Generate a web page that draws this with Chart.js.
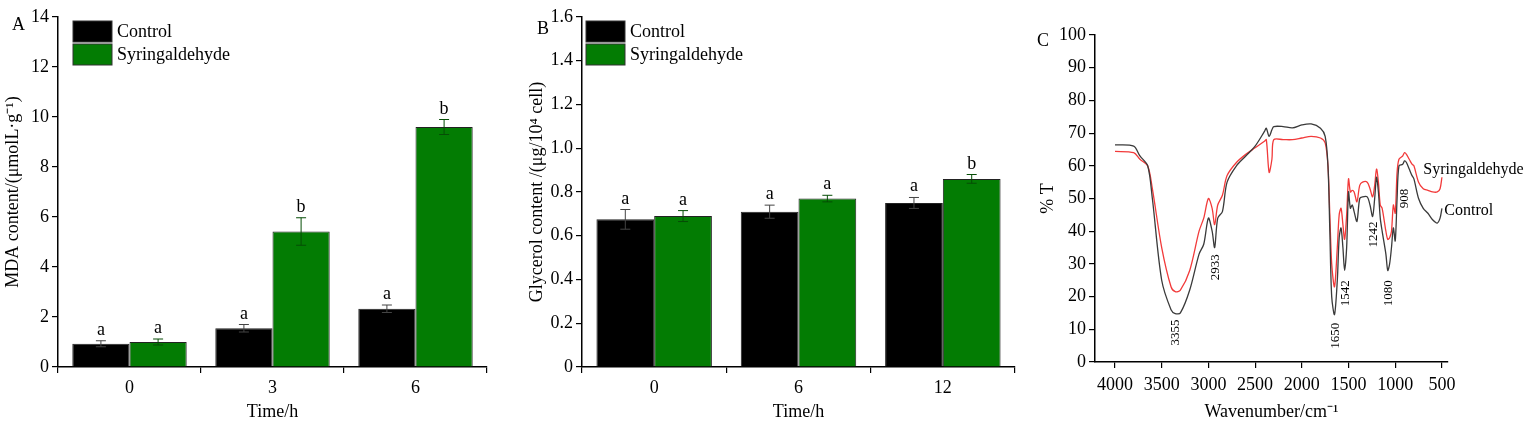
<!DOCTYPE html>
<html><head><meta charset="utf-8">
<script src="https://cdn.jsdelivr.net/npm/chart.js@4.4.1/dist/chart.umd.min.js"></script>
<style>
body{margin:0;background:#fff;width:1525px;height:427px;position:relative;overflow:hidden}
canvas{position:absolute;top:0}
</style></head><body>
<canvas id="cA" style="left:0" width="520" height="427"></canvas>
<canvas id="cB" style="left:520px" width="510" height="427"></canvas>
<canvas id="cC" style="left:1030px" width="495" height="427"></canvas>
<script>
/* panel A: MDA */
const timesA   = ['0', '3', '6'];
const mdaCtrl  = [0.93, 1.55, 2.33];
const mdaCtrlE = [0.12, 0.15, 0.15];
const mdaSyr   = [1.0, 5.42, 9.6];
const mdaSyrE  = [0.12, 0.55, 0.3];
const mdaLetCtrl = ['a', 'a', 'a'];
const mdaLetSyr  = ['a', 'b', 'b'];

/* panel B: glycerol */
const timesB   = ['0', '6', '12'];
const glyCtrl  = [0.675, 0.71, 0.75];
const glyCtrlE = [0.045, 0.03, 0.025];
const glySyr   = [0.69, 0.77, 0.86];
const glySyrE  = [0.025, 0.015, 0.02];
const glyLetCtrl = ['a', 'a', 'a'];
const glyLetSyr  = ['a', 'a', 'b'];

/* panel C: FTIR */
const wn = [4000,3800,3733,3650,3600,3500,3400,3355,3300,3200,3100,3050,3000,2960,2933,2900,2850,2800,2700,2600,2500,2400,2380,2350,2320,2300,2200,2100,2000,1900,1800,1750,1720,1700,1680,1650,1620,1600,1580,1560,1542,1520,1500,1480,1460,1440,1410,1380,1350,1300,1270,1242,1220,1200,1180,1160,1140,1100,1080,1060,1040,1020,1000,980,960,920,900,880,850,820,800,750,700,650,600,550,520,500];
const irCtrl = [66.4,66,63,60,50,25,16,14.8,15,22,33,36,44,40,35,44,46,55,60,63,66,70.5,71.5,69,71,72,72,71.6,72.5,72.8,71.5,69,60,40,20,14.5,25,38,41,35,28,35,52,47,48,46,43,50,50.5,50.5,48,44.5,50,56.5,52,44,40,33,28,30,35,41,37,50,60,60.5,61.5,61,59,57,56,50,47,45.5,43.5,42.5,44,47];
const irSyr  = [64.4,64,62,60,53,35,23,21.5,22,28,40,44,50,47,42,48,51,57,61,63.5,65.5,67.5,68,58,62,68,68,68,68.5,69,68.5,67,60,45,30,23,35,45,47,42,37.5,45,56,52,52.5,52,49,54,55,55,53,50.5,54,59,55,48,47,40,37.5,38,40,48,45.5,58,62,63,64,63.5,62,60.5,60,55,53,52.5,52,52,53,56.5];
const peakWn  = [3355, 2933, 1650, 1542, 1242, 1080, 908];
const peakAt  = [9, 29, 8, 21, 39, 21, 50];
const xTicksC = [4000,3500,3000,2500,2000,1500,1000,500];

const FONT = '"Liberation Serif", "Times New Roman", serif';
Chart.defaults.font.family = FONT;
Chart.defaults.color = '#000';
Chart.defaults.animation = false;

const axisGrid = { display: true, drawOnChartArea: false, drawTicks: true, tickLength: 6, color: '#000', lineWidth: 1.2 };
const border   = { color: '#000', width: 1.5 };

const barExtras = {
  id: 'barExtras',
  afterDatasetsDraw(chart, args, o) {
    const ctx = chart.ctx;
    ctx.save();
    chart.data.datasets.forEach((ds, di) => {
      const meta = chart.getDatasetMeta(di);
      const ys = chart.scales.y;
      meta.data.forEach((bar, i) => {
        const v = ds.data[i], e = ds.err[i];
        const top = ys.getPixelForValue(v + e), bot = ys.getPixelForValue(v - e);
        ctx.strokeStyle = di === 0 ? '#444' : '#064d06';
        ctx.lineWidth = 1;
        ctx.beginPath();
        ctx.moveTo(bar.x, top); ctx.lineTo(bar.x, bot);
        ctx.moveTo(bar.x - 5, top); ctx.lineTo(bar.x + 5, top);
        ctx.moveTo(bar.x - 5, bot); ctx.lineTo(bar.x + 5, bot);
        ctx.stroke();
        ctx.fillStyle = '#000';
        ctx.font = '18px ' + FONT;
        ctx.textAlign = 'center';
        ctx.fillText(ds.letters[i], bar.x, top - 6);
      });
    });
    // legend
    const a = chart.chartArea;
    const lx = a.left + o.lx, ly = a.top + 4;
    chart.data.datasets.forEach((ds, di) => {
      ctx.fillStyle = ds.backgroundColor;
      ctx.fillRect(lx, ly + di * 23, 39, 21);
      ctx.strokeStyle = '#333';
      ctx.strokeRect(lx, ly + di * 23, 39, 21);
      ctx.fillStyle = '#000';
      ctx.font = '18px ' + FONT;
      ctx.textAlign = 'left';
      ctx.fillText(ds.label, lx + 44, ly + di * 23 + 16);
    });
    ctx.font = '18px ' + FONT;
    ctx.fillText(o.letter, o.px, o.py);
    ctx.restore();
  }
};

function barChart(id, labels, c, ce, cl, s, se, sl, max, step, ytitle, opts, padL, padR) {
  new Chart(document.getElementById(id), {
    type: 'bar',
    data: {
      labels,
      datasets: [
        { label: 'Control', data: c, err: ce, letters: cl, backgroundColor: '#000000', borderColor: '#222', borderWidth: 1 },
        { label: 'Syringaldehyde', data: s, err: se, letters: sl, backgroundColor: '#037c03', borderColor: '#222', borderWidth: 1 }
      ]
    },
    plugins: [barExtras],
    options: {
      responsive: false,
      layout: { padding: { left: padL, right: padR, top: 17, bottom: 0 } },
      plugins: { legend: { display: false }, tooltip: { enabled: false }, barExtras: opts },
      datasets: { bar: { categoryPercentage: 0.8, barPercentage: 1 } },
      scales: {
        x: {
          grid: axisGrid, border,
          ticks: { font: { size: 18 }, padding: 4 },
          title: { display: true, text: 'Time/h', font: { size: 18 }, padding: { top: 12 } },
          afterFit: s => { s.height = 60; }
        },
        y: {
          min: 0, max, grid: axisGrid, border,
          ticks: { stepSize: step, font: { size: 18 }, padding: 3 },
          title: { display: true, text: ytitle, font: { size: 18 }, padding: 2 },
          afterFit: s => { s.width = 58; }
        }
      }
    }
  });
}

barChart('cA', timesA, mdaCtrl, mdaCtrlE, mdaLetCtrl, mdaSyr, mdaSyrE, mdaLetSyr, 14, 2,
  'MDA content/(μmolL·g⁻¹)', { lx: 15, letter: 'A', px: 12, py: 30 }, 0, 33);
barChart('cB', timesB, glyCtrl, glyCtrlE, glyLetCtrl, glySyr, glySyrE, glyLetSyr, 1.6, 0.2,
  'Glycerol content /(μg/10⁴ cell)', { lx: 4, letter: 'B', px: 17, py: 34 }, 4, 15);

const irExtras = {
  id: 'irExtras',
  afterDatasetsDraw(chart) {
    const ctx = chart.ctx, x = chart.scales.x, y = chart.scales.y;
    ctx.save();
    ctx.fillStyle = '#000';
    ctx.font = '13px ' + FONT;
    peakWn.forEach((w, i) => {
      ctx.save();
      ctx.translate(x.getPixelForValue(w) + 4, y.getPixelForValue(peakAt[i]));
      ctx.rotate(-Math.PI / 2);
      ctx.textAlign = 'center';
      ctx.fillText(String(w), 0, 0);
      ctx.restore();
    });
    ctx.font = '16px ' + FONT;
    ctx.textAlign = 'left';
    ctx.fillText('Syringaldehyde', x.getPixelForValue(700), y.getPixelForValue(57.5));
    ctx.fillText('Control', x.getPixelForValue(475), y.getPixelForValue(45));
    ctx.font = '18px ' + FONT;
    ctx.fillText('C', 7, 46);
    ctx.restore();
  }
};

new Chart(document.getElementById('cC'), {
  type: 'line',
  data: {
    datasets: [
      { label: 'Control', data: wn.map((w, i) => ({ x: w, y: irCtrl[i] })), borderColor: '#3a3a3a', borderWidth: 1.3, pointRadius: 0, tension: 0.3 },
      { label: 'Syringaldehyde', data: wn.map((w, i) => ({ x: w, y: irSyr[i] })), borderColor: '#f23a3a', borderWidth: 1.3, pointRadius: 0, tension: 0.3 }
    ]
  },
  plugins: [irExtras],
  options: {
    responsive: false,
    layout: { padding: { left: 5, right: 77, top: 35, bottom: 0 } },
    plugins: { legend: { display: false }, tooltip: { enabled: false } },
    scales: {
      x: {
        type: 'linear', reverse: true, min: 435, max: 4214,
        afterBuildTicks: s => { s.ticks = xTicksC.map(v => ({ value: v })); },
        grid: axisGrid, border,
        ticks: { font: { size: 18 }, padding: 6, callback: v => String(v) },
        title: { display: true, text: 'Wavenumber/cm⁻¹', font: { size: 18 }, padding: { top: 14 } },
        afterFit: s => { s.height = 65; }
      },
      y: {
        min: 0, max: 100, grid: axisGrid, border,
        ticks: { stepSize: 10, font: { size: 18 }, padding: 3 },
        title: { display: true, text: '% T', font: { size: 18 }, padding: 2 },
        afterFit: s => { s.width = 60; }
      }
    }
  }
});
</script>
</body></html>
